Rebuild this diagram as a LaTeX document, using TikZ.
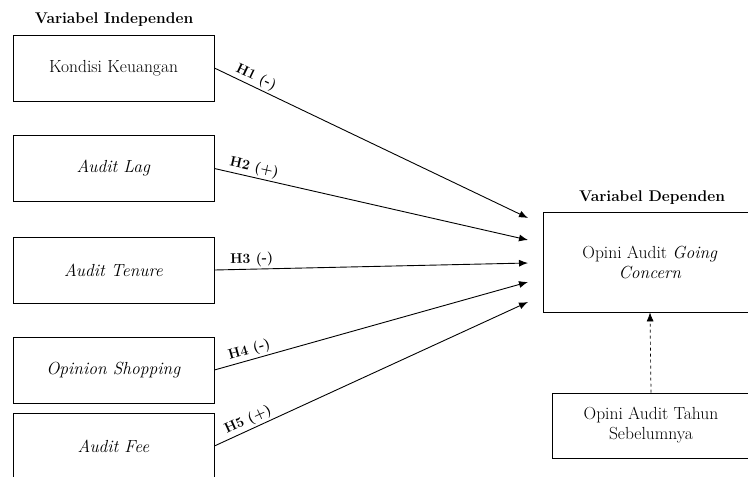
\documentclass[tikz,border=0pt]{standalone}
\usetikzlibrary{arrows.meta,positioning}

\begin{document}
\begin{tikzpicture}[x=1pt,y=-1pt,
    varbox/.style={draw,line width=0.8pt,minimum width=201pt,minimum height=66pt,inner sep=0pt,
      align=center,font=\fontsize{17.5}{20}\selectfont},
    heading/.style={font=\bfseries\fontsize{15.5}{18}\selectfont},
    hlabel/.style={font=\bfseries\fontsize{14}{16}\selectfont,sloped,above,pos=0.12,inner sep=2pt},
    effect/.style={-{Latex[length=9pt,width=7pt]},line width=0.9pt}]
        \clip (0,0) rectangle (748,477);
        \node[heading] (indep) at (114,20) {Variabel Independen};
        \node[varbox] (kondisi) at (113.5,68) {Kondisi Keuangan};
        \node[varbox] (lag) at (113.5,168.5) {\textit{Audit Lag}};
        \node[varbox] (tenure) at (113.5,270) {\textit{Audit Tenure}};
        \node[varbox] (shopping) at (113.5,370) {\textit{Opinion Shopping}};
        \node[varbox] (fee) at (113.5,446) {\textit{Audit Fee}};

        \node[heading] (dep) at (652,197.5) {Variabel Dependen};
        \node[varbox,minimum width=214pt,minimum height=100pt] (gc) at (650,262)
          {Opini Audit \textit{Going}\\\textit{Concern}};
        \node[varbox,minimum width=198pt,minimum height=65pt] (prev) at (651,425.5)
          {Opini Audit Tahun\\Sebelumnya};

        % arrow ends in front of the dependent box
        \coordinate (t1) at (528,218);
        \coordinate (t2) at (528,240);
        \coordinate (t3) at (528,263);
        \coordinate (t4) at (528,282);
        \coordinate (t5) at (528,302);

        \foreach \src/\dst/\lab in {kondisi/t1/H1 (-),lag/t2/H2 (+),tenure/t3/H3 (-),shopping/t4/H4 (-),fee/t5/H5 (+)}{
          \draw[effect] (\src.east) -- (\dst) node[hlabel] {\lab};
        }
        \draw[effect,dashed,line width=0.7pt] (prev.north) -- (gc.south);
      \end{tikzpicture}
\end{document}
